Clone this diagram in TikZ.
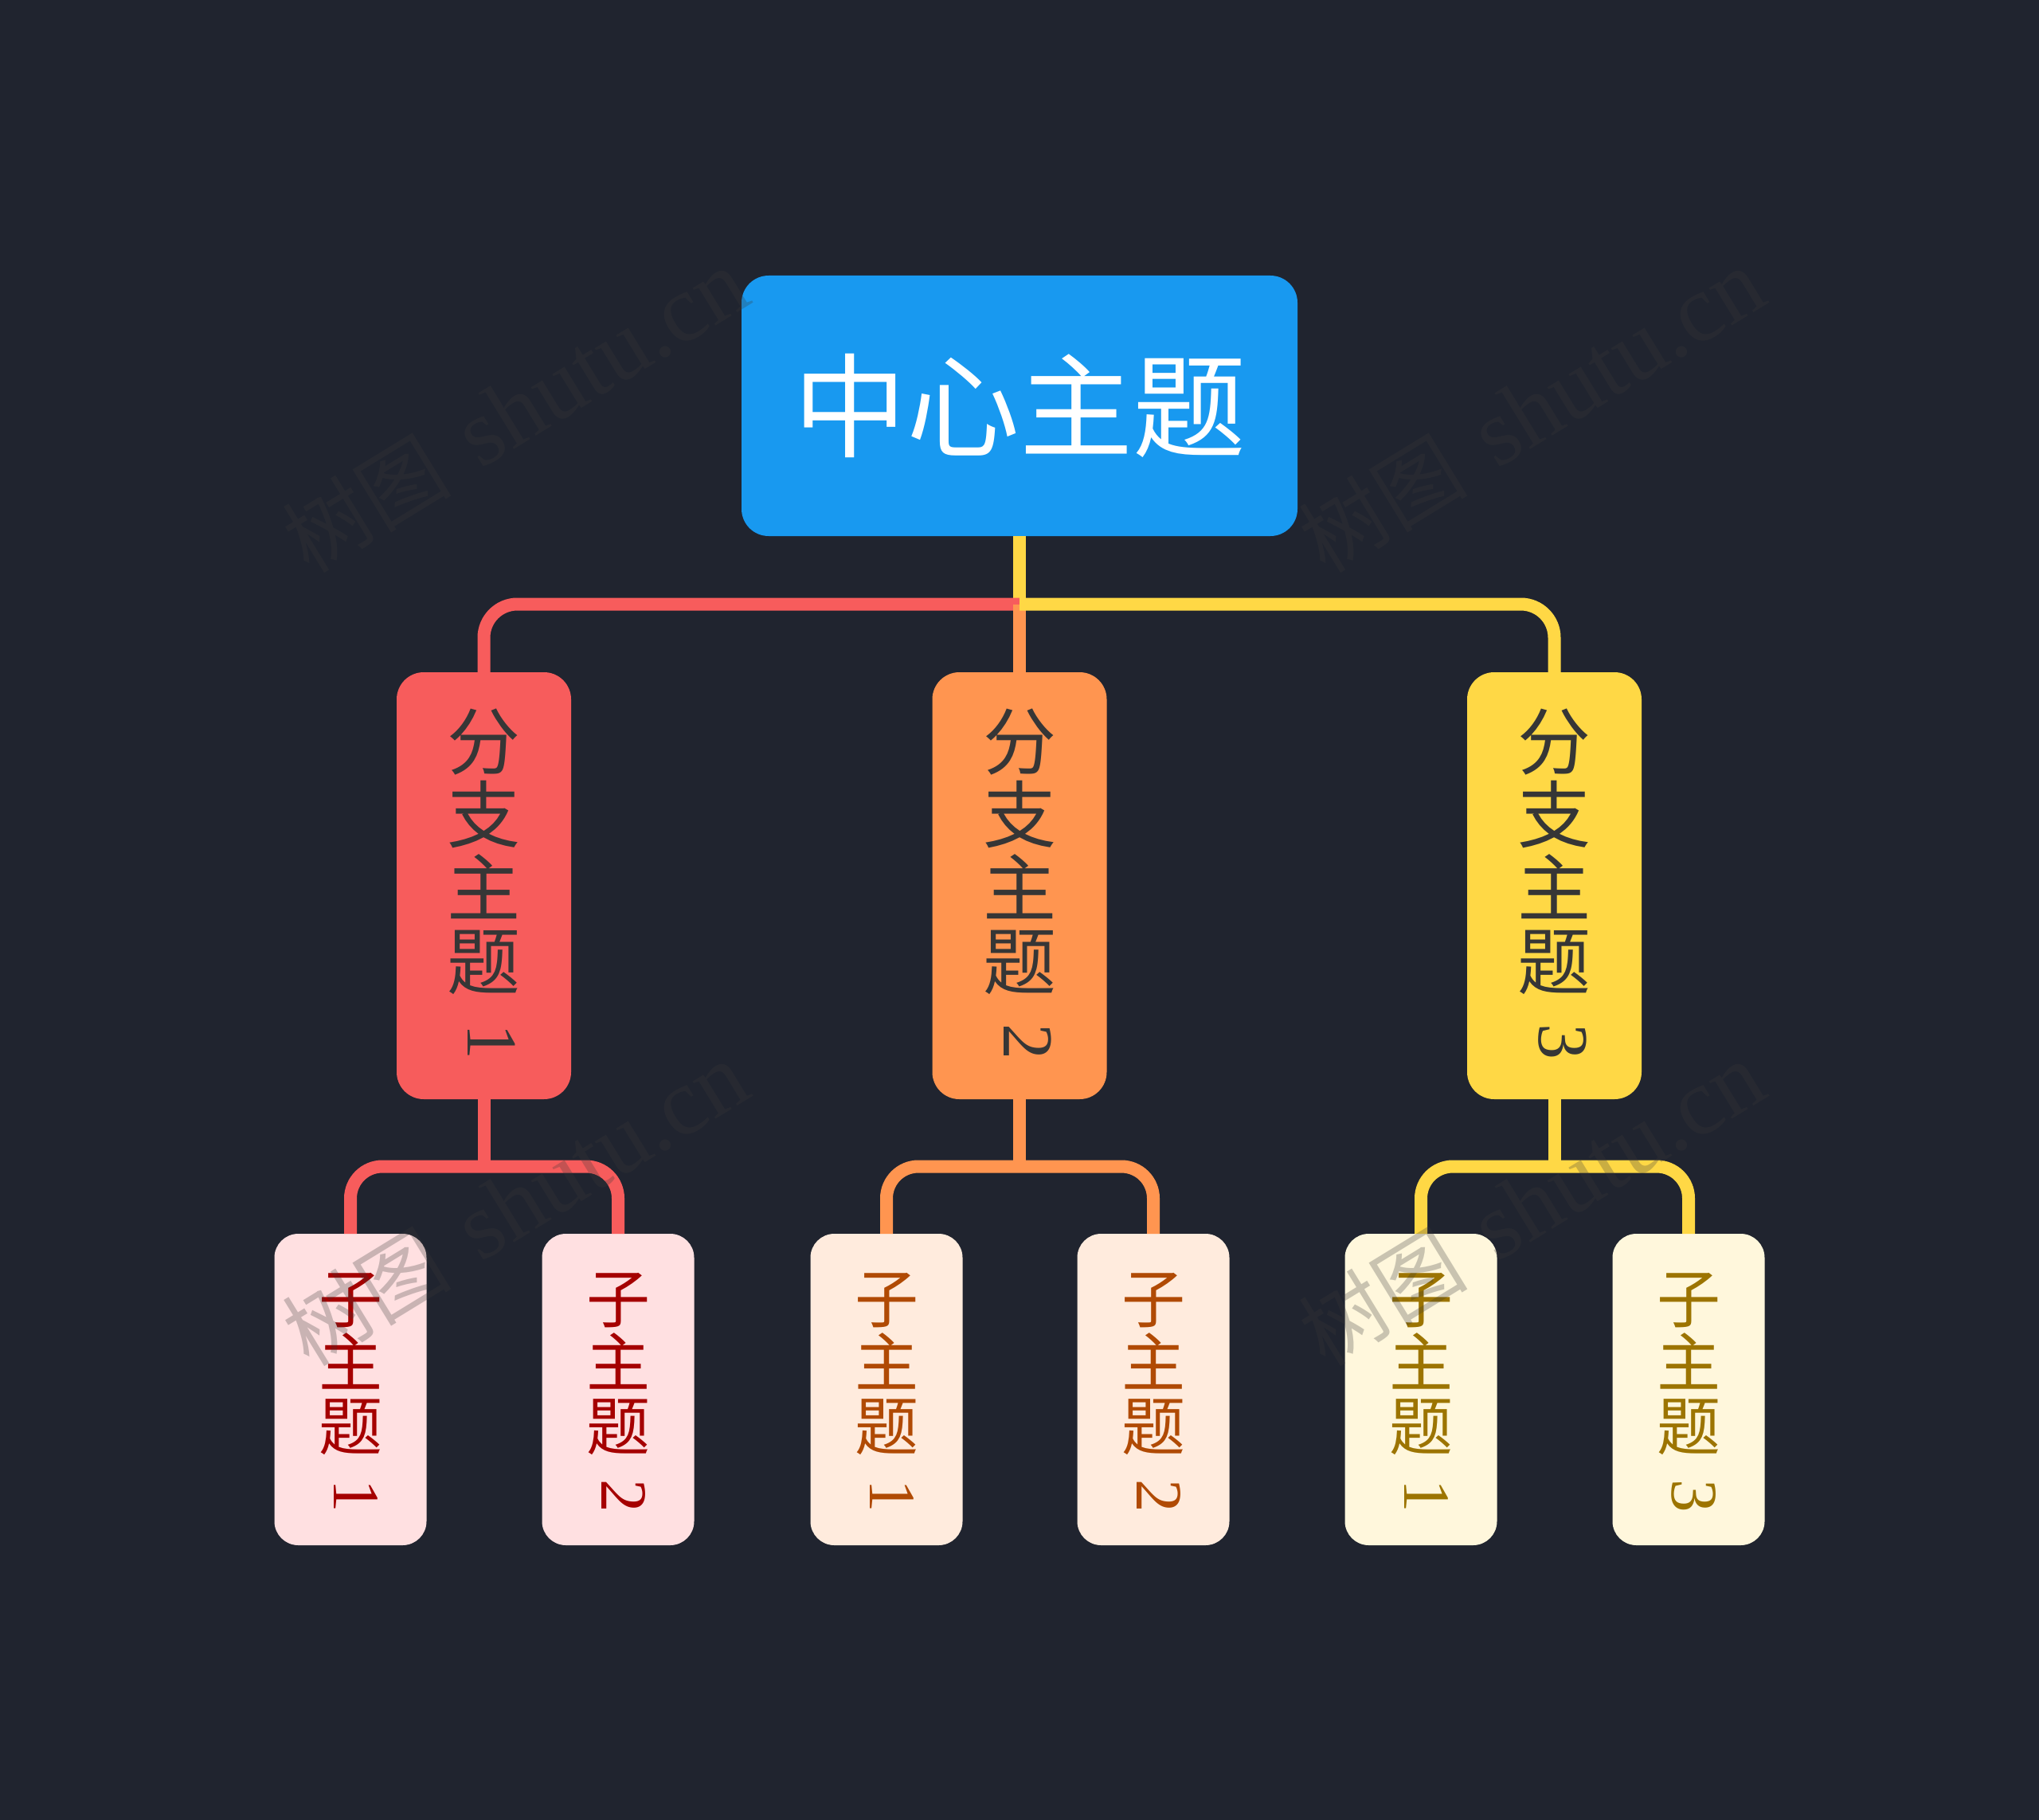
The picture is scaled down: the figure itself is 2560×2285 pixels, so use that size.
\documentclass[tikz,border=0pt]{standalone}
\usepackage{fontspec}
\usetikzlibrary{calc}
\newfontfamily\cjk{Noto Sans CJK SC}
\newfontfamily\digitf{Liberation Serif}
\definecolor{bg}{HTML}{20242F}
\definecolor{central}{HTML}{1899F0}
\definecolor{redc}{HTML}{F75C5C}
\definecolor{orangec}{HTML}{FF9550}
\definecolor{yellowc}{HTML}{FFD845}
\definecolor{btext}{HTML}{363636}
\definecolor{lredfill}{HTML}{FFE0E1}
\definecolor{lredtext}{HTML}{A50000}
\definecolor{lorfill}{HTML}{FFEBDD}
\definecolor{lortext}{HTML}{B04A04}
\definecolor{lyefill}{HTML}{FFF7DC}
\definecolor{lyetext}{HTML}{9C7400}
\definecolor{wmgray}{HTML}{3A3A3A}
\newcommand{\branchtext}[2]{%
  \foreach \ch [count=\i] in {分,支,主,题}
    \node[bglyph] (#1g\i) at ($(#1.center)+(0,{-182+92*(\i-1)})$) {\ch};
  \node[bdigit] (#1d) at ($(#1.center)+(10,196)$) {#2};
}
\newcommand{\leaftext}[3]{%
  \foreach \ch [count=\i] in {子,主,题}
    \node[lglyph, text=#3] (#1g\i) at ($(#1.center)+(0,{-114+80*(\i-1)})$) {\ch};
  \node[ldigit, text=#3] (#1d) at ($(#1.center)+(7,134)$) {#2};
}
\newcommand{\wmtext}{{\cjk\fontsize{53}{53}\selectfont 树图}\hspace{20pt}{\digitf\fontsize{60}{60}\selectfont shutu.cn}}
\begin{document}
\begin{tikzpicture}[x=0.5pt,y=-0.5pt,
  box/.style={rectangle, inner sep=0pt, outer sep=0pt},
  cbox/.style={box, fill=central, rounded corners=17pt, minimum width=349pt, minimum height=163.5pt, text=white, font=\cjk\fontsize{71}{71}\selectfont},
  bbox/.style={box, rounded corners=17pt, minimum width=109.5pt, minimum height=268pt},
  lbox/.style={box, rounded corners=15pt, minimum width=95.5pt, minimum height=195.5pt},
  bglyph/.style={inner sep=0pt, text=btext, font=\cjk\fontsize{46}{46}\selectfont, text height=40.5pt, text depth=5.5pt},
  bdigit/.style={inner sep=0pt, text=btext, font=\digitf\fontsize{45}{45}\selectfont, rotate=-90},
  lglyph/.style={inner sep=0pt, font=\cjk\fontsize{40}{40}\selectfont, text height=35.2pt, text depth=4.8pt},
  ldigit/.style={inner sep=0pt, font=\digitf\fontsize{41.5}{41.5}\selectfont, rotate=-90},
  link/.style={line width=8pt},
  wm/.style={inner sep=0pt, rotate=31.5, text=wmgray, text opacity=0.27}
]
\fill[bg] (0,0) rectangle (2560,2285);
\useasboundingbox (0,0) rectangle (2560,2285);

% central
\node[cbox] (c) at (1280,509.5) {中心主题};

% branches
\node[bbox, fill=redc] (b1) at (607.5,1112) {};
\node[bbox, fill=orangec] (b2) at (1280,1112) {};
\node[bbox, fill=yellowc] (b3) at (1951.5,1112) {};
\branchtext{b1}{1}
\branchtext{b2}{2}
\branchtext{b3}{3}

% leaves
\node[lbox, fill=lredfill] (l1) at (440,1744.5) {};
\node[lbox, fill=lredfill] (l2) at (776,1744.5) {};
\node[lbox, fill=lorfill] (l3) at (1113,1744.5) {};
\node[lbox, fill=lorfill] (l4) at (1448,1744.5) {};
\node[lbox, fill=lyefill] (l5) at (1784,1744.5) {};
\node[lbox, fill=lyefill] (l6) at (2120,1744.5) {};
\leaftext{l1}{1}{lredtext}
\leaftext{l2}{2}{lredtext}
\leaftext{l3}{1}{lortext}
\leaftext{l4}{2}{lortext}
\leaftext{l5}{1}{lyetext}
\leaftext{l6}{3}{lyetext}

% top connectors
\coordinate (jt) at ($(c.south)!0.5!(b2.north)$);
\draw[link, yellowc] (c.south) -- (jt);
\draw[link, redc, rounded corners=21pt] (jt) -- (b1.north |- jt) -- (b1.north);
\draw[link, orangec] (jt) -- (b2.north);
\draw[link, yellowc, rounded corners=21pt] (jt) -- (b3.north |- jt) -- (b3.north);

% sub connectors
\coordinate (j1) at ($(b1.south)!0.5!(l1.north)$);
\draw[link, redc] (b1.south) -- (b1.south |- j1);
\draw[link, redc, rounded corners=20pt] (l1.north) -- (l1.north |- j1) -- (l2.north |- j1) -- (l2.north);
\coordinate (j2) at ($(b2.south)!0.5!(l3.north)$);
\draw[link, orangec] (b2.south) -- (b2.south |- j2);
\draw[link, orangec, rounded corners=20pt] (l3.north) -- (l3.north |- j2) -- (l4.north |- j2) -- (l4.north);
\coordinate (j3) at ($(b3.south)!0.5!(l5.north)$);
\draw[link, yellowc] (b3.south) -- (b3.south |- j3);
\draw[link, yellowc, rounded corners=20pt] (l5.north) -- (l5.north |- j3) -- (l6.north |- j3) -- (l6.north);

% watermarks
\node[wm] (w1) at (647,516) {\wmtext};
\node[wm] (w2) at (1923,516) {\wmtext};
\node[wm] (w3) at (647,1512) {\wmtext};
\node[wm] (w4) at (1923,1512) {\wmtext};
\end{tikzpicture}
\end{document}
